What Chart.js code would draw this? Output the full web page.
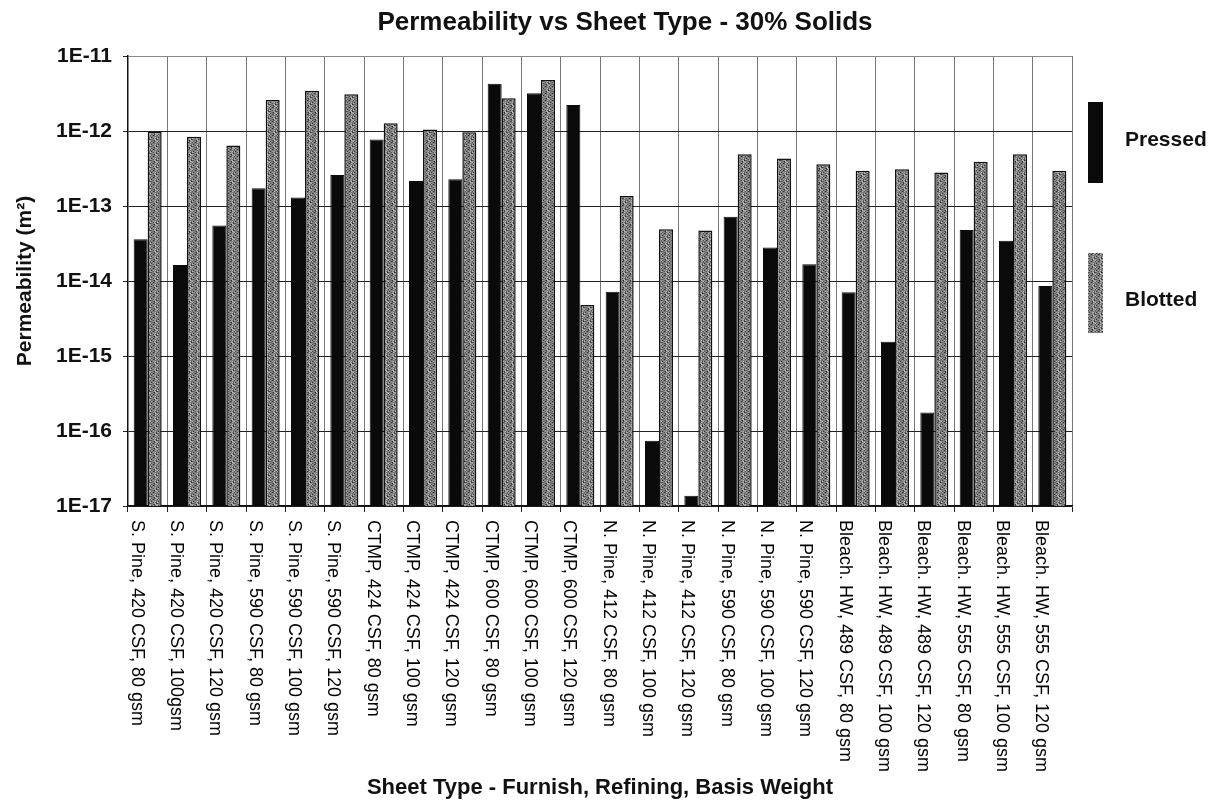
<!DOCTYPE html>
<html>
<head>
<meta charset="utf-8">
<script src="https://cdn.jsdelivr.net/npm/chart.js@4.4.1/dist/chart.umd.min.js"></script>
<style>
html, body { margin: 0; padding: 0; background: #fff; }
</style>
</head>
<body>
<canvas id="chart" width="1215" height="801"></canvas>
<script>
// Sheet types: furnish, refining, basis weight
const sheetTypes = [
    'S. Pine, 420 CSF, 80 gsm', 'S. Pine, 420 CSF, 100gsm', 'S. Pine, 420 CSF, 120 gsm',
    'S. Pine, 590 CSF, 80 gsm', 'S. Pine, 590 CSF, 100 gsm', 'S. Pine, 590 CSF, 120 gsm',
    'CTMP, 424 CSF, 80 gsm', 'CTMP, 424 CSF, 100 gsm', 'CTMP, 424 CSF, 120 gsm',
    'CTMP, 600 CSF, 80 gsm', 'CTMP, 600 CSF, 100 gsm', 'CTMP, 600 CSF, 120 gsm',
    'N. Pine, 412 CSF, 80 gsm', 'N. Pine, 412 CSF, 100 gsm', 'N. Pine, 412 CSF, 120 gsm',
    'N. Pine, 590 CSF, 80 gsm', 'N. Pine, 590 CSF, 100 gsm', 'N. Pine, 590 CSF, 120 gsm',
    'Bleach. HW, 489 CSF, 80 gsm', 'Bleach. HW, 489 CSF, 100 gsm', 'Bleach. HW, 489 CSF, 120 gsm',
    'Bleach. HW, 555 CSF, 80 gsm', 'Bleach. HW, 555 CSF, 100 gsm', 'Bleach. HW, 555 CSF, 120 gsm'
];

// Permeability (m^2)
const pressed = [
    3.6e-14, 1.63e-14, 5.5e-14,
    1.72e-13, 1.3e-13, 2.6e-13,
    7.7e-13, 2.15e-13, 2.27e-13,
    4.28e-12, 3.18e-12, 2.22e-12,
    7.2e-15, 7.4e-17, 1.37e-17,
    7.2e-14, 2.8e-14, 1.67e-14,
    7.1e-15, 1.55e-15, 1.77e-16,
    4.8e-14, 3.45e-14, 8.6e-15
];
const blotted = [
    9.8e-13, 8.4e-13, 6.4e-13,
    2.6e-12, 3.45e-12, 3.1e-12,
    1.27e-12, 1.05e-12, 9.6e-13,
    2.73e-12, 4.79e-12, 4.79e-15,
    1.36e-13, 4.9e-14, 4.7e-14,
    4.9e-13, 4.3e-13, 3.6e-13,
    2.96e-13, 3.08e-13, 2.8e-13,
    3.9e-13, 4.9e-13, 2.96e-13
];

// Decade ticks only
const yTicks = [1e-17, 1e-16, 1e-15, 1e-14, 1e-13, 1e-12, 1e-11];

const chartTitle = 'Permeability vs Sheet Type - 30% Solids';

const FONT = '"Liberation Sans", Arial, Helvetica, sans-serif';

// Stippled grey fill for the blotted bars (fixed dither, no randomness)
function makeStipple() {
    const c = document.createElement('canvas');
    c.width = 7;
    c.height = 7;
    const g = c.getContext('2d');
    const shades = ['#2e2e2e', '#7a7a7a', '#a2a2a2', '#4e4e4e', '#8a8a8a', '#b8b8b8', '#5e5e5e', '#969696'];
    for (let y = 0; y < 7; y++) {
        for (let x = 0; x < 7; x++) {
            g.fillStyle = shades[(x * 5 + y * 3 + x * y) % shades.length];
            g.fillRect(x, y, 1, 1);
        }
    }
    return g.createPattern(c, 'repeat');
}

// Title, drawn a bit right of centre as in the original
const topTitle = {
    id: 'topTitle',
    afterDraw(chart) {
        const { ctx, chartArea } = chart;
        ctx.save();
        ctx.font = 'bold 26px ' + FONT;
        ctx.fillStyle = '#111';
        ctx.textAlign = 'center';
        ctx.textBaseline = 'middle';
        ctx.fillText(chartTitle, (chartArea.left + chartArea.right) / 2 + 25, 23);
        ctx.restore();
    }
};

// Category labels, rotated clockwise (read top to bottom)
const sheetLabels = {
    id: 'sheetLabels',
    afterDraw(chart) {
        const { ctx, chartArea, scales: { x } } = chart;
        ctx.save();
        ctx.font = '18px ' + FONT;
        ctx.fillStyle = '#000';
        ctx.textAlign = 'left';
        ctx.textBaseline = 'middle';
        sheetTypes.forEach((label, i) => {
            ctx.save();
            ctx.translate(x.getPixelForValue(i) - 11, chartArea.bottom + 14);
            ctx.rotate(Math.PI / 2);
            ctx.fillText(label, 0, 0);
            ctx.restore();
        });
        ctx.restore();
    }
};

// Legend at the right with tall swatches
const sideLegend = {
    id: 'sideLegend',
    afterDraw(chart) {
        const { ctx, chartArea } = chart;
        const slots = [{ top: 46, h: 81, dy: -2 }, { top: 197, h: 80, dy: 7 }];
        ctx.save();
        ctx.font = 'bold 21px ' + FONT;
        ctx.textAlign = 'left';
        ctx.textBaseline = 'middle';
        chart.data.datasets.forEach((ds, i) => {
            const s = slots[i];
            const left = chartArea.right + 16;
            const top = chartArea.top + s.top;
            ctx.fillStyle = ds.backgroundColor;
            ctx.fillRect(left, top, 15, s.h);
            ctx.fillStyle = '#111';
            ctx.fillText(ds.label, left + 37, top + s.h / 2 + s.dy);
        });
        ctx.restore();
    }
};

const ctx = document.getElementById('chart').getContext('2d');

new Chart(ctx, {
    type: 'bar',
    data: {
        labels: sheetTypes,
        datasets: [
            {
                label: 'Pressed',
                data: pressed,
                backgroundColor: '#0a0a0a',
                borderColor: '#0a0a0a',
                borderWidth: 1,
                categoryPercentage: 0.712,
                barPercentage: 1.0
            },
            {
                label: 'Blotted',
                data: blotted,
                backgroundColor: makeStipple(),
                borderColor: '#111',
                borderWidth: 1.5,
                categoryPercentage: 0.712,
                barPercentage: 1.0
            }
        ]
    },
    options: {
        responsive: false,
        animation: false,
        layout: {
            padding: { left: 0, right: 143, top: 56, bottom: 0 }
        },
        plugins: {
            legend: { display: false },
            tooltip: { enabled: false },
            title: { display: false }
        },
        scales: {
            x: {
                type: 'category',
                grid: {
                    offset: true,
                    color: '#777',
                    lineWidth: 1,
                    drawTicks: true,
                    tickLength: 6,
                    tickColor: '#222'
                },
                border: { color: '#111', width: 1.5 },
                ticks: { display: false },
                title: {
                    display: true,
                    text: 'Sheet Type - Furnish, Refining, Basis Weight',
                    color: '#111',
                    font: { family: FONT, size: 22, weight: 'bold', lineHeight: 1.2 },
                    padding: { top: 0, bottom: 0 }
                },
                afterFit(scale) { scale.height = 295; }
            },
            y: {
                type: 'logarithmic',
                min: 1e-17,
                max: 1e-11,
                afterBuildTicks(scale) {
                    scale.ticks = yTicks.map(v => ({ value: v }));
                },
                grid: {
                    color: (c) => c.index === yTicks.length - 1 ? '#888' : '#222',
                    lineWidth: 1,
                    tickLength: 5,
                    tickColor: '#222'
                },
                border: { color: '#111', width: 1.5 },
                ticks: {
                    color: '#111',
                    padding: 11,
                    font: { family: FONT, size: 21, weight: 'bold' },
                    callback: v => '1E' + Math.round(Math.log10(v))
                },
                title: {
                    display: true,
                    text: 'Permeability (m²)',
                    color: '#111',
                    font: { family: FONT, size: 21, weight: 'bold', lineHeight: 1.2 },
                    padding: { top: 13, bottom: 0 }
                },
                afterFit(scale) { scale.width = 128; }
            }
        }
    },
    plugins: [topTitle, sheetLabels, sideLegend]
});
</script>
</body>
</html>
